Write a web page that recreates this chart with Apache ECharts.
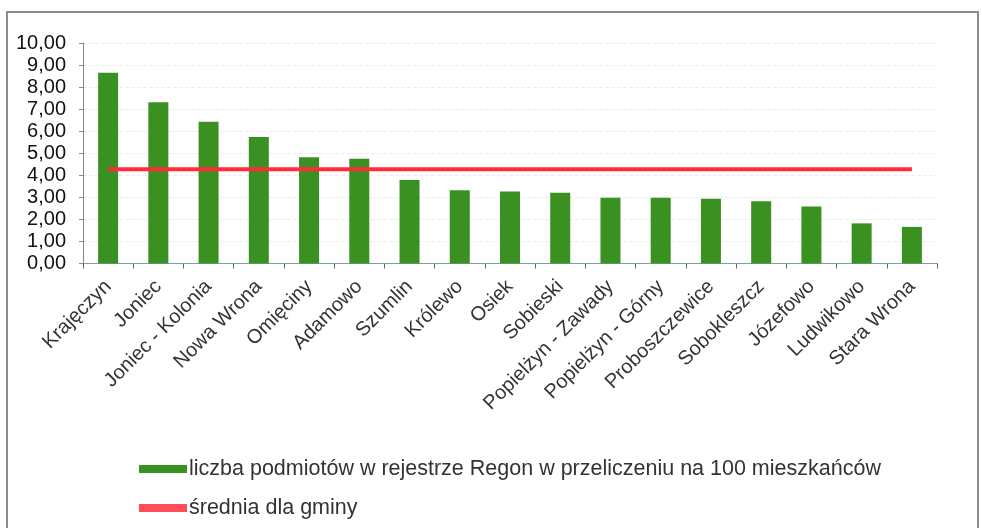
<!DOCTYPE html>
<html>
<head>
<meta charset="UTF-8">
<title></title>
<script src="https://cdn.jsdelivr.net/npm/echarts@6/dist/echarts.min.js"></script>
<style>
  html, body { margin: 0; padding: 0; background: #fff; }
  #chart { width: 982px; height: 528px; }
</style>
</head>
<body>
<div id="chart"></div>
<script>
// miejscowości gminy
var categories = ['Krajęczyn', 'Joniec', 'Joniec - Kolonia', 'Nowa Wrona', 'Omięciny', 'Adamowo',
  'Szumlin', 'Królewo', 'Osiek', 'Sobieski', 'Popielżyn - Zawady', 'Popielżyn - Górny',
  'Proboszczewice', 'Sobokleszcz', 'Józefowo', 'Ludwikowo', 'Stara Wrona'];
var barValues = [8.65, 7.31, 6.43, 5.74, 4.82, 4.75, 3.79, 3.32, 3.26, 3.21, 2.98, 2.98, 2.94, 2.82, 2.58, 1.82, 1.66];
var averageValue = 4.28;
var averageValues = categories.map(function () { return averageValue; });

var barName = 'liczba podmiotów w rejestrze Regon w przeliczeniu na 100 mieszkańców';
var lineName = 'średnia dla gminy';

var myChart = echarts.init(document.getElementById('chart'));
myChart.setOption({
  backgroundColor: '#fff',
  animation: false,
  textStyle: { fontFamily: 'Liberation Sans, Arial, sans-serif' },
  graphic: [{
    type: 'rect',
    shape: { x: 7, y: 12, width: 971, height: 530 },
    style: { fill: 'none', stroke: '#8c8c8c', lineWidth: 2 },
    silent: true
  }],
  grid: { left: 83, right: 45, top: 43, height: 220.5 },
  legend: {
    orient: 'vertical',
    left: 134,
    top: 453,
    itemWidth: 48,
    itemHeight: 8,
    itemGap: 17,
    textStyle: { fontSize: 21.5, color: '#333', padding: [0, 0, 0, -3] },
    data: [
      { name: barName, icon: 'rect' },
      { name: lineName, icon: 'rect', itemStyle: { color: '#ff4d57' } }
    ]
  },
  xAxis: {
    type: 'category',
    data: categories,
    axisLine: { lineStyle: { color: '#7aa0a8', width: 1 } },
    axisTick: { show: true, length: 5, lineStyle: { color: '#666' } },
    axisLabel: {
      interval: 0,
      rotate: 45,
      margin: 20,
      fontSize: 20,
      color: '#333'
    }
  },
  yAxis: {
    type: 'value',
    min: 0,
    max: 10,
    interval: 1,
    axisLine: { show: true, lineStyle: { color: '#888' } },
    axisTick: { show: true, length: 4, lineStyle: { color: '#888' } },
    splitLine: { lineStyle: { color: '#ececec', type: 'dashed' } },
    axisLabel: {
      fontSize: 20,
      color: '#111',
      margin: 17,
      formatter: function (v) { return v.toFixed(2).replace('.', ','); }
    }
  },
  series: [
    {
      name: barName,
      type: 'bar',
      data: barValues,
      barWidth: 20,
      itemStyle: { color: '#3a9020' }
    },
    {
      name: lineName,
      type: 'line',
      data: averageValues,
      symbol: 'none',
      lineStyle: { color: '#ff2a3a', width: 4 },
      itemStyle: { color: '#ff2a3a' },
      z: 3
    }
  ]
});
</script>
</body>
</html>
